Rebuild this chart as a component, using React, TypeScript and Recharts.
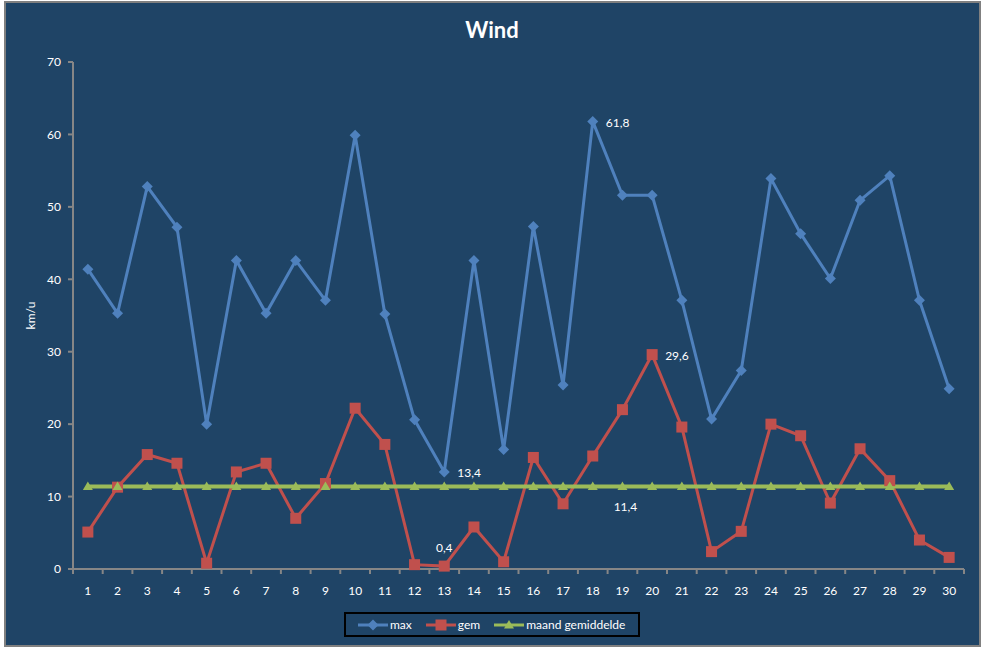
import React from 'react';
import { LineChart, Line, XAxis, YAxis, Legend, LabelList } from 'recharts';

const days = [
  1, 2, 3, 4, 5, 6, 7, 8, 9, 10, 11, 12, 13, 14, 15, 16, 17, 18, 19, 20, 21, 22, 23, 24, 25, 26, 27, 28, 29, 30,
];
const maxWind = [
  41.4, 35.3, 52.8, 47.2, 20.0, 42.6, 35.3, 42.6, 37.1, 59.9, 35.2, 20.6, 13.4, 42.6, 16.5,
  47.3, 25.4, 61.8, 51.6, 51.6, 37.1, 20.7, 27.4, 53.9, 46.3, 40.1, 50.9, 54.3, 37.1, 24.9,
];
const gemWind = [
  5.1, 11.3, 15.8, 14.6, 0.8, 13.4, 14.6, 7.0, 11.8, 22.2, 17.2, 0.6, 0.4, 5.8, 1.0,
  15.4, 9.0, 15.6, 22.0, 29.6, 19.6, 2.4, 5.2, 20.0, 18.4, 9.1, 16.6, 12.2, 4.0, 1.6,
];
const maandGemiddelde = days.map(() => 11.4);
const yTicks = [0, 10, 20, 30, 40, 50, 60, 70];

// which points carry a data label, and where
const maxLabels: Record<number, string> = { 12: 'right', 17: 'right' };
const gemLabels: Record<number, string> = { 12: 'top', 19: 'right' };
const maandLabels: Record<number, string> = { 18: 'bottom' };

const data = days.map((d, i) => ({
  day: d,
  max: maxWind[i],
  gem: gemWind[i],
  maand: maandGemiddelde[i],
}));

const BG = '#1f4466';
const AXIS = '#868686';
const BLUE = '#4f81bd';
const RED = '#c0504d';
const GREEN = '#9bbb59';
const FONT = 'Lato, "Noto Sans", sans-serif';

const W = 987;
const H = 648;
const PLOT_LEFT = 73;
const PLOT_RIGHT = 964;
const BAND = (PLOT_RIGHT - PLOT_LEFT) / days.length;

const fmt = (v: number) => String(v).replace('.', ',');

const Diamond = ({ cx, cy }: any) =>
  cx == null ? null : (
    <path d={`M${cx},${cy - 5.5}L${cx + 5.5},${cy}L${cx},${cy + 5.5}L${cx - 5.5},${cy}Z`} fill={BLUE} />
  );
const Square = ({ cx, cy }: any) =>
  cx == null ? null : <rect x={cx - 5.5} y={cy - 5.5} width={11} height={11} fill={RED} />;
const Triangle = ({ cx, cy }: any) =>
  cx == null ? null : (
    <path d={`M${cx},${cy - 5}L${cx + 5},${cy + 3.5}L${cx - 5},${cy + 3.5}Z`} fill={GREEN} />
  );

const makeLabel = (which: Record<number, string>) => (props: any) => {
  const { x, y, value, index } = props;
  const pos = which[index];
  if (!pos) return null;
  let tx = x;
  let ty = y;
  let anchor = 'middle';
  if (pos === 'right') {
    tx = x + 13;
    ty = y + 1;
    anchor = 'start';
  } else if (pos === 'top') {
    ty = y - 18;
  } else if (pos === 'bottom') {
    tx = x + 3;
    ty = y + 20;
  }
  return (
    <text x={tx} y={ty} dy="0.35em" textAnchor={anchor} fill="#ffffff" fontSize={12} fontFamily={FONT}>
      {fmt(value)}
    </text>
  );
};

const XTick = (props: any) => {
  const { x, y, payload, index } = props;
  return (
    <g>
      <line x1={x - BAND / 2} y1={y} x2={x - BAND / 2} y2={y + 5} stroke={AXIS} strokeWidth={2} />
      {index === days.length - 1 && (
        <line x1={x + BAND / 2} y1={y} x2={x + BAND / 2} y2={y + 5} stroke={AXIS} strokeWidth={2} />
      )}
      <text x={x} y={y + 22} dy="0.35em" textAnchor="middle" fill="#ffffff" fontSize={12} fontFamily={FONT}>
        {payload.value}
      </text>
    </g>
  );
};

const legendItems = [
  { name: 'max', color: BLUE, Marker: Diamond },
  { name: 'gem', color: RED, Marker: Square },
  { name: 'maand gemiddelde', color: GREEN, Marker: Triangle },
];

const LegendBox = () => (
  <div
    style={{
      boxSizing: 'border-box',
      width: 296,
      height: 25,
      border: '2px solid #000000',
      display: 'flex',
      alignItems: 'center',
      paddingLeft: 12,
      fontFamily: FONT,
      fontSize: 12,
      color: '#ffffff',
      whiteSpace: 'nowrap',
    }}
  >
    {legendItems.map(({ name, color, Marker }) => (
      <div key={name} style={{ display: 'flex', alignItems: 'center', marginRight: 14, flexShrink: 0 }}>
        <svg width={30} height={12} style={{ flexShrink: 0 }}>
          <line x1={0} y1={6} x2={30} y2={6} stroke={color} strokeWidth={3} />
          <Marker cx={15} cy={6} />
        </svg>
        <span style={{ marginLeft: 2 }}>{name}</span>
      </div>
    ))}
  </div>
);

export default function App() {
  return (
    <div style={{ position: 'absolute', left: 0, top: 0, width: W, height: H, background: '#ffffff' }}>
      <div
        style={{
          position: 'absolute',
          left: 4,
          top: 1,
          width: 977,
          height: 646,
          boxSizing: 'border-box',
          border: '2px solid #808080',
          background: BG,
        }}
      />
      <div
        style={{
          position: 'absolute',
          left: 0,
          top: 30,
          width: 984,
          marginTop: -14,
          textAlign: 'center',
          color: '#ffffff',
          fontFamily: FONT,
          fontWeight: 700,
          fontSize: 22,
          lineHeight: '28px',
        }}
      >
        Wind
      </div>
      <div style={{ position: 'absolute', left: 0, top: 0 }}>
        <LineChart width={W} height={H} data={data} margin={{ top: 62, right: W - PLOT_RIGHT, bottom: 49, left: 0 }}>
          <XAxis
            dataKey="day"
            scale="band"
            height={30}
            tickLine={false}
            tickSize={0}
            tickMargin={0}
            axisLine={{ stroke: AXIS, strokeWidth: 2 }}
            tick={<XTick />}
            interval={0}
          />
          <YAxis
            width={PLOT_LEFT}
            domain={[0, 70]}
            ticks={yTicks}
            interval={0}
            tickSize={5}
            tickMargin={7}
            axisLine={{ stroke: AXIS, strokeWidth: 2 }}
            tickLine={{ stroke: AXIS, strokeWidth: 2 }}
            tick={{ fill: '#ffffff', fontSize: 12, fontFamily: FONT }}
            label={({ viewBox }: any) => (
              <text
                x={viewBox.x + 31}
                y={viewBox.y + viewBox.height / 2}
                transform={`rotate(-90 ${viewBox.x + 31} ${viewBox.y + viewBox.height / 2})`}
                dy="0.35em"
                textAnchor="middle"
                fill="#ffffff"
                fontSize={12}
                fontFamily={FONT}
              >
                km/u
              </text>
            )}
          />
          <Legend
            verticalAlign="middle"
            align="center"
            wrapperStyle={{ top: 612, left: 344, width: 296 }}
            content={() => <LegendBox />}
          />
          <Line
            dataKey="max"
            type="linear"
            stroke={BLUE}
            strokeWidth={3}
            dot={<Diamond />}
            activeDot={false}
            isAnimationActive={false}
          >
            <LabelList dataKey="max" content={makeLabel(maxLabels)} />
          </Line>
          <Line
            dataKey="gem"
            type="linear"
            stroke={RED}
            strokeWidth={3}
            dot={<Square />}
            activeDot={false}
            isAnimationActive={false}
          >
            <LabelList dataKey="gem" content={makeLabel(gemLabels)} />
          </Line>
          <Line
            dataKey="maand"
            type="linear"
            stroke={GREEN}
            strokeWidth={4}
            dot={<Triangle />}
            activeDot={false}
            isAnimationActive={false}
          >
            <LabelList dataKey="maand" content={makeLabel(maandLabels)} />
          </Line>
        </LineChart>
      </div>
    </div>
  );
}
